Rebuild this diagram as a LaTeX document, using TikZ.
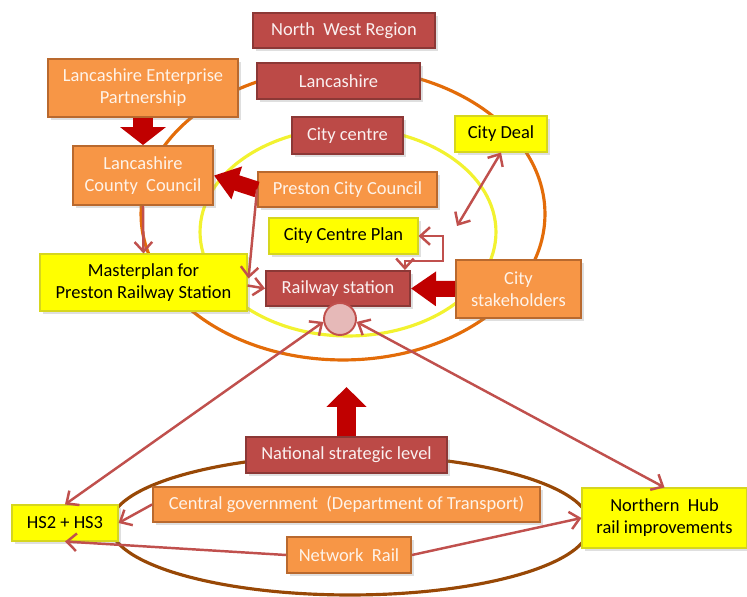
\documentclass[tikz,border=0pt]{standalone}
\usepackage{fontspec}
\setmainfont{Carlito}
\usetikzlibrary{arrows.meta,shadows,calc}

\definecolor{boxred}{HTML}{BC4A47}
\definecolor{boxredline}{HTML}{8C3836}
\definecolor{boxorange}{HTML}{F79646}
\definecolor{boxorangeline}{HTML}{B9692E}
\definecolor{boxyellow}{HTML}{FFFF00}
\definecolor{boxyellowline}{HTML}{D6D61E}
\definecolor{linkred}{HTML}{C0504D}
\definecolor{bigred}{HTML}{C00000}
\definecolor{ringorange}{HTML}{E36C09}
\definecolor{ringyellow}{HTML}{F2F230}
\definecolor{ringbrown}{HTML}{984806}

\begin{document}
\begin{tikzpicture}[x=0.02cm, y=-0.02cm,
  font=\fontsize{10.5}{12.5}\selectfont,
  box/.style={line width=1.1pt, align=center, inner sep=2pt,
    drop shadow={opacity=0.25, shadow xshift=1.5pt, shadow yshift=-1.5pt}},
  redbox/.style={box, fill=boxred, draw=boxredline, text=white!92!boxred},
  orangebox/.style={box, fill=boxorange, draw=boxorangeline, text=white!88!boxorange},
  yellowbox/.style={box, line width=0.6pt, fill=boxyellow, draw=boxyellowline, text=black},
  ring/.style={line width=1.8pt},
  link/.style={draw=linkred, line width=1.4pt, -{Straight Barb[length=5.5pt, width=10pt]}},
  twolink/.style={draw=linkred, line width=1.4pt,
    {Straight Barb[length=5.5pt, width=10pt]}-{Straight Barb[length=5.5pt, width=10pt]}},
  fat/.style={draw=bigred, line width=#1},
  ]
  \useasboundingbox (0,0) rectangle (747,597);

  % rings
  \draw[ring, ringorange] (343,214) ellipse[x radius=4.04cm, y radius=2.92cm];
  \draw[ring, ringyellow] (348,232) ellipse[x radius=2.96cm, y radius=2.08cm];
  \draw[ring, ringbrown] (350,525) ellipse[x radius=4.8cm, y radius=1.4cm];

  % boxes
  \node[redbox, minimum width=3.64cm, minimum height=0.7cm] (nwr) at (344,30.5) {North~ West Region};
  \node[redbox, minimum width=3.26cm, minimum height=0.72cm] (lan) at (338.5,81) {Lancashire};
  \node[orangebox, minimum width=3.8cm, minimum height=1.16cm] (lep) at (143,88) {Lancashire Enterprise\\Partnership};
  \node[redbox, minimum width=2.22cm, minimum height=0.74cm] (cc) at (347.5,135.5) {City centre};
  \node[yellowbox, minimum width=1.84cm, minimum height=0.72cm] (deal) at (501,134) {City Deal};
  \node[orangebox, minimum width=2.8cm, minimum height=1.18cm] (lcc) at (143,175.5) {Lancashire\\County~ Council};
  \node[orangebox, minimum width=3.58cm, minimum height=0.7cm] (pcc) at (347.5,189.5) {Preston City Council};
  \node[yellowbox, minimum width=2.98cm, minimum height=0.72cm] (ccp) at (343.5,236) {City Centre Plan};
  \node[yellowbox, minimum width=4.14cm, minimum height=1.14cm] (mpl) at (143.5,282.5) {Masterplan for\\Preston Railway Station};
  \node[redbox, minimum width=2.88cm, minimum height=0.7cm] (rs) at (338,288.5) {Railway station};
  \node[orangebox, minimum width=2.5cm, minimum height=1.16cm] (csh) at (518.5,289) {City\\stakeholders};
  \node[circle, draw=linkred, line width=1.1pt, fill=linkred!40!white, minimum size=0.64cm] (hub) at (340,319) {};
  \node[redbox, minimum width=4.02cm, minimum height=0.72cm] (nsl) at (346.5,455) {National strategic level};
  \node[yellowbox, minimum width=2.12cm, minimum height=0.72cm] (hs) at (65,523) {HS2 + HS3};
  \node[orangebox, minimum width=7.74cm, minimum height=0.7cm] (cg) at (346.5,504.5) {Central government~ (Department of Transport)};
  \node[orangebox, minimum width=2.48cm, minimum height=0.72cm] (nr) at (349,555) {Network~ Rail};
  \node[yellowbox, minimum width=3.3cm, minimum height=1.2cm] (nh) at (664.5,518) {Northern~ Hub\\rail improvements};

  \coordinate (dealend) at (457,226);
  \coordinate (loop) at (443,261);
  \coordinate (rstop) at ($(rs.north east)+(-6,0)$);
  \coordinate (natup) at (346.5,387);

  % block arrows
  \draw[fat=0.4cm, -{Triangle[length=0.36cm, width=0.9cm]}] (lep.south) -- (lcc.north);
  \draw[fat=0.32cm, -{Triangle[length=0.48cm, width=0.66cm]}] (pcc.west) -- (lcc.east);
  \draw[fat=0.32cm, -{Triangle[length=0.5cm, width=0.66cm]}] (csh.west) -- (rs.east);
  \draw[fat=0.38cm, -{Triangle[length=0.4cm, width=0.78cm]}] (nsl.north) -- (natup);

  % thin links
  \draw[link] (lcc.south) -- (mpl.north);
  \draw[link] (pcc.west) -- ($(mpl.east)+(1,-4)$);
  \draw[link] ($(mpl.east)+(0,3)$) -- (rs.west);
  \draw[twolink] (deal.south) -- (dealend);
  \draw[twolink] (ccp.east) -| (loop) -| (rstop);
  \draw[twolink] (hub.190) -- (hs.north);
  \draw[twolink] (hub.350) -- (nh.north);
  \draw[link] (cg.west) -- (hs.east);
  \draw[link] (nr.west) -- (hs.south);
  \draw[link] (nr.east) -- (nh.west);
\end{tikzpicture}
\end{document}
